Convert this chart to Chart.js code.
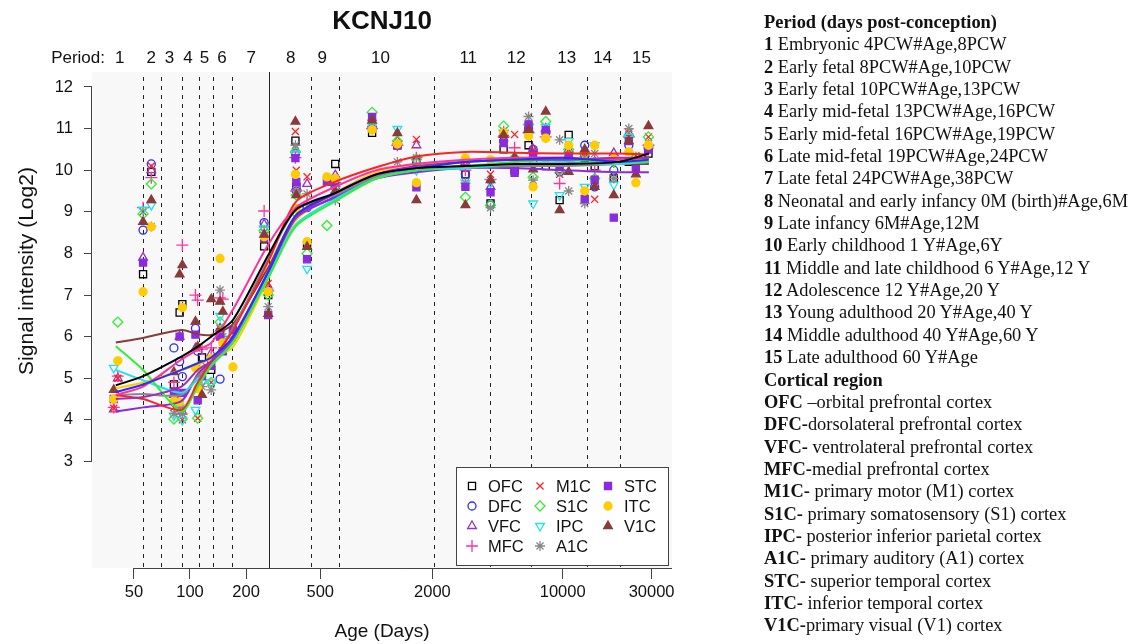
<!DOCTYPE html>
<html>
<head>
<meta charset="utf-8">
<script src="https://cdn.jsdelivr.net/npm/chart.js@4.4.0/dist/chart.umd.min.js"></script>
<style>
  body { margin: 0; background: #fff; }
  #wrap { position: relative; width: 1134px; height: 644px; }
  #side {
    position: absolute; left: 764px; top: 11px;
    font-family: "Liberation Serif", "Times New Roman", serif;
    font-size: 18.4px; line-height: 22.35px; color: #111; white-space: nowrap;
  }
</style>
</head>
<body>
<div id="wrap">
  <canvas id="kcnj10" width="1134" height="644"></canvas>
  <div id="side"></div>
</div>
<script>
// ages of the samples (days post-conception)
const sampleAges = [39, 41, 56, 62, 82, 88, 91, 107, 110, 116,
  130, 145, 150, 170, 250, 263, 368, 372, 425, 543,
  602, 949, 1297, 1641, 3006, 4100, 4820, 5520, 6560, 6940,
  8110, 9630, 10770, 13130, 14850, 18800, 22640, 24700, 28860];

// signal per region at each sample age (null = no sample)
const ofc = [null, null, 7.5, 9.96, 4.85, 6.58, 6.78, null, null, 5.5,
  5.2, 6.1, null, null, 8.17, 7.0, 10.71, 9.6, 8.2, null,
  10.15, 10.9, 10.6, 10.2, 9.9, 9.2, 10.5, 10.0, 10.6, 10.2,
  10.1, 9.28, 10.85, 10.3, 10.1, 9.8, 10.2, 10.3, 10.4];
const dfc = [null, null, 8.56, 10.15, 5.73, 5.4, 5.04, 6.2, 5.65, null,
  5.45, 4.98, null, null, 8.74, 7.1, 10.4, 9.5, 9.1, null,
  9.6, 11.0, 10.6, 10.26, 9.9, 9.16, 10.7, 10.2, 11.0, 10.5,
  10.9, 9.96, 10.3, 10.6, 9.6, 10.0, 10.6, 10.3, 10.5];
const vfc = [4.25, 5.0, 7.9, 10.0, 4.6, 6.0, 4.2, 5.72, null, 5.3,
  5.6, 6.2, null, null, 8.7, 7.2, 10.5, 9.6, 9.67, null,
  9.88, 11.1, 10.7, 10.6, 10.2, 9.6, 10.9, 10.2, 11.0, 10.5,
  11.0, 10.0, 10.5, 10.4, 10.2, 10.41, 10.9, 10.2, 10.6];
const mfc = [4.3, 5.05, 9.1, 9.82, 4.9, 4.2, 8.2, 7.0, 6.88, 5.7,
  5.73, 6.93, 6.9, null, 9.02, 7.1, 10.3, 9.5, 9.2, null,
  9.7, 11.0, 10.6, 10.3, 10.0, 9.78, 10.8, 10.54, 10.9, 10.4,
  10.8, 9.68, 10.2, 10.4, 10.0, 10.2, 10.8, 10.3, 10.6];
const m1c = [4.28, 5.0, 9.0, 10.1, 4.3, 4.2, 4.0, null, 4.04, null,
  4.9, 6.2, null, null, 8.5, 7.28, 10.93, 10.0, 9.84, null,
  9.7, 11.0, 10.6, 10.74, 10.2, 9.9, 10.8, 10.86, 10.9, 10.48,
  10.8, 9.9, 10.5, 10.4, 9.3, 10.3, 10.9, 10.35, 10.8];
const s1c = [null, 6.35, 8.95, 9.67, 4.02, 4.3, 4.02, null, 4.04, null,
  4.9, 6.35, null, null, 8.55, 7.0, 10.44, 9.4, 8.0, 8.67,
  9.6, 11.39, 10.7, 10.26, 9.35, 9.16, 11.06, 10.3, 11.1, 9.83,
  11.17, 10.0, 10.5, 10.4, 9.8, 10.2, 10.8, 10.3, 10.8];
const ipc = [5.25, null, 9.05, 9.16, 4.1, 4.3, 4.0, 4.24, null, 4.9,
  4.9, 6.5, 5.95, null, 8.6, 7.1, 10.4, 8.92, 7.63, null,
  9.4, 11.05, 10.99, 10.0, 9.7, 9.7, 10.9, 10.2, 10.85, 9.2,
  11.04, 9.4, 10.7, 9.6, 10.6, 9.65, 10.8, 10.1, 10.5];
const a1c = [null, null, null, 8.65, 4.15, 4.3, 4.15, null, null, 4.8,
  4.72, 7.12, 6.0, 5.97, 8.5, 6.72, 10.6, 9.52, 9.43, null,
  9.28, 11.2, 10.2, 10.3, 9.69, 9.1, 10.95, 10.2, 11.29, 9.76,
  10.9, 10.73, 9.5, 9.2, 10.4, 9.8, 11.0, 10.2, 10.6];
const stc = [4.5, null, 7.78, null, 4.68, 6.0, 4.65, 6.05, 4.47, 5.05,
  5.3, 6.0, 5.65, 6.16, 8.37, 6.52, 10.29, 9.72, 7.86, 9.72,
  9.7, 11.28, 10.6, 9.59, 9.6, 9.47, 10.65, 9.94, 11.1, 10.39,
  10.97, 10.1, 10.33, 9.31, 9.77, 8.86, 10.7, 10.06, 10.5];
const itc = [4.5, 5.42, 7.08, 8.64, 4.45, 4.43, 6.7, 5.25, 4.75, 5.2,
  5.48, 7.88, 5.85, 5.27, 8.4, 7.08, 9.9, 9.08, 8.28, 9.84,
  9.8, 10.97, 10.63, 9.7, 10.29, 10.25, 10.9, 10.2, 10.82, 9.6,
  10.77, 10.2, 10.6, 9.5, 10.6, 10.28, 10.44, 9.7, 10.6];
const v1c = [4.72, null, 8.76, 9.28, 5.15, 7.5, 7.72, 6.36, 5.76, 4.6,
  6.9, 6.84, 6.6, null, 8.45, 6.55, 11.17, 9.4, 8.16, null,
  9.5, 11.2, 10.89, 9.28, 9.16, 9.76, 10.85, 10.31, 10.97, 10.02,
  11.41, 9.04, 9.96, 10.5, 9.6, 9.4, 10.7, 9.9, 11.06];

// smoothed trend per region, read at these ages
const fitAges = [40, 56, 90, 110, 130, 170, 266, 370, 600, 1000, 1640, 3000, 5500, 10000, 20000, 29000];
const ofcFit = [4.83, 5.05, 5.52, 5.76, 6.0, 6.4, 8.0, 9.05, 9.45, 9.9, 10.05, 10.1, 10.15, 10.15, 10.2, 10.4];
const dfcFit = [4.67, 4.85, 5.2, 5.36, 5.5, 6.0, 7.6, 8.92, 9.45, 9.9, 10.05, 10.2, 10.25, 10.3, 10.2, 10.25];
const vfcFit = [4.5, 4.55, 4.8, 5.2, 5.4, 5.95, 7.6, 8.85, 9.45, 9.9, 10.1, 10.2, 10.25, 10.25, 10.3, 10.3];
const mfcFit = [4.6, 4.8, 5.45, 5.68, 5.85, 6.65, 8.25, 9.1, 9.6, 10.0, 10.15, 10.25, 10.3, 10.3, 10.25, 10.3];
const m1cFit = [4.6, 4.5, 4.24, 4.9, 5.4, 6.15, 7.85, 9.24, 9.72, 10.07, 10.33, 10.44, 10.42, 10.4, 10.4, 10.38];
const s1cFit = [5.77, 5.2, 4.2, 4.8, 5.3, 5.85, 7.45, 8.65, 9.25, 9.8, 10.0, 10.1, 10.2, 10.25, 10.2, 10.2];
const ipcFit = [5.2, 4.95, 4.65, 4.97, 5.3, 5.9, 7.5, 8.7, 9.3, 9.8, 10.0, 10.05, 10.15, 10.2, 10.15, 10.2];
const a1cFit = [4.6, 4.62, 4.6, 5.05, 5.35, 6.2, 7.9, 9.05, 9.4, 9.85, 10.0, 10.05, 10.1, 10.1, 10.15, 10.2];
const stcFit = [4.2, 4.3, 4.45, 5.1, 5.4, 5.95, 7.55, 8.85, 9.35, 9.8, 9.95, 10.05, 10.05, 10.0, 9.95, 9.95];
const itcFit = [4.76, 4.9, 5.2, 5.32, 5.48, 5.75, 7.45, 8.8, 9.45, 9.95, 10.15, 10.2, 10.25, 10.25, 10.25, 10.25];
const v1cFit = [5.86, 5.97, 6.16, 6.06, 6.04, 6.3, 7.7, 8.9, 9.35, 9.85, 10.0, 10.1, 10.15, 10.15, 10.15, 10.15];

const regionNames = ["OFC", "DFC", "VFC", "MFC", "M1C", "S1C", "IPC", "A1C", "STC", "ITC", "V1C"];
const regionValues = [ofc, dfc, vfc, mfc, m1c, s1c, ipc, a1c, stc, itc, v1c];
const regionFits = [ofcFit, dfcFit, vfcFit, mfcFit, m1cFit, s1cFit, ipcFit, a1cFit, stcFit, itcFit, v1cFit];

const xTicks = [50, 100, 200, 500, 2000, 10000, 30000];
const yTicks = [3, 4, 5, 6, 7, 8, 9, 10, 11, 12];
const periodBounds = [56, 70, 91, 112, 133, 168, 266, 448, 631, 2034, 4068, 6780, 13560, 20340];
const birthDay = 266;
const periodLabels = ["1", "2", "3", "4", "5", "6", "7", "8", "9", "10", "11", "12", "13", "14", "15"];
const periodLabelAges = [42, 62, 77.6, 97.5, 119.6, 148.6, 213, 347, 513, 1052, 3112, 5636, 10520, 16400, 26500];

// text of the right hand panel
const periodText = [
  "Embryonic 4PCW#Age,8PCW", "Early fetal 8PCW#Age,10PCW", "Early fetal 10PCW#Age,13PCW",
  "Early mid-fetal 13PCW#Age,16PCW", "Early mid-fetal 16PCW#Age,19PCW", "Late mid-fetal 19PCW#Age,24PCW",
  "Late fetal 24PCW#Age,38PCW", "Neonatal and early infancy 0M (birth)#Age,6M", "Late infancy 6M#Age,12M",
  "Early childhood 1 Y#Age,6Y", "Middle and late childhood 6 Y#Age,12 Y", "Adolescence 12 Y#Age,20 Y",
  "Young adulthood 20 Y#Age,40 Y", "Middle adulthood 40 Y#Age,60 Y", "Late adulthood 60 Y#Age"];
const regionHead = ["OFC ", "DFC-", "VFC-", "MFC-", "M1C-", "S1C-", "IPC-", "A1C-", "STC-", "ITC-", "V1C-"];
const regionText = ["\u2013orbital prefrontal cortex", "dorsolateral prefrontal cortex", " ventrolateral prefrontal cortex",
  "medial prefrontal cortex", " primary motor (M1) cortex", " primary somatosensory (S1) cortex",
  " posterior inferior parietal cortex", " primary auditory (A1) cortex", " superior temporal cortex",
  " inferior temporal cortex", "primary visual (V1) cortex"];

// marker look per region
const styles = [
  { color: "#000000", shape: "rect", fill: false, r: 5 },
  { color: "#2b2bff", shape: "circle", fill: false, r: 4 },
  { color: "#9b30b8", shape: "triangle", fill: false, r: 5 },
  { color: "#ff3399", shape: "cross", fill: false, r: 6 },
  { color: "#ff2222", shape: "crossRot", fill: false, r: 5 },
  { color: "#33ee33", shape: "rectRot", fill: false, r: 5 },
  { color: "#1ee3f0", shape: "triangle", fill: false, r: 5, rot: 180 },
  { color: "#888888", shape: "star", fill: false, r: 5 },
  { color: "#8a2be2", shape: "rect", fill: true, r: 5 },
  { color: "#ffcc00", shape: "circle", fill: true, r: 4 },
  { color: "#8b3a3a", shape: "triangle", fill: true, r: 5 },
];

const sans = '"Liberation Sans", Arial, sans-serif';

// fill the side panel
const side = document.getElementById("side");
let html = "<b>Period (days post-conception)</b><br>";
periodText.forEach((t, i) => { html += "<b>" + (i + 1) + "</b> " + t + "<br>"; });
html += "<b>Cortical region</b><br>";
regionHead.forEach((h, i) => { html += "<b>" + h + "</b>" + regionText[i] + "<br>"; });
side.innerHTML = html;

const datasets = [];
regionNames.forEach((name, i) => {
  const s = styles[i];
  datasets.push({
    label: name + " fit",
    data: fitAges.map((a, k) => ({ x: a, y: regionFits[i][k] })),
    showLine: true,
    borderColor: s.color,
    borderWidth: 2,
    pointRadius: 0,
    tension: 0.25,
    order: 0,
  });
});
regionNames.forEach((name, i) => {
  const s = styles[i];
  const pts = [];
  sampleAges.forEach((a, k) => {
    if (regionValues[i][k] !== null) pts.push({ x: a, y: regionValues[i][k] });
  });
  datasets.push({
    label: name,
    data: pts,
    showLine: false,
    pointStyle: s.shape,
    pointRotation: s.rot || 0,
    pointRadius: s.r,
    pointBorderWidth: 1.3,
    pointBorderColor: s.color,
    pointBackgroundColor: s.fill ? s.color : "rgba(0,0,0,0)",
    order: 30 - i,
  });
});

function drawMarker(ctx, s, x, y) {
  ctx.save();
  ctx.strokeStyle = s.color;
  ctx.fillStyle = s.fill ? s.color : "rgba(0,0,0,0)";
  ctx.lineWidth = 1.3;
  Chart.helpers.drawPoint(ctx, { pointStyle: s.shape, radius: s.r, rotation: s.rot || 0, borderWidth: 1.3 }, x, y);
  ctx.restore();
}

const decor = {
  id: "decor",
  beforeDraw(chart) {
    const { ctx, chartArea: a } = chart;
    ctx.save();
    ctx.fillStyle = "#f8f8f8";
    ctx.fillRect(a.left, a.top, a.right - a.left, a.bottom - a.top);
    ctx.restore();
  },
  beforeDatasetsDraw(chart) {
    const { ctx, chartArea: a, scales: { x } } = chart;
    ctx.save();
    ctx.strokeStyle = "#222";
    ctx.lineWidth = 1;
    periodBounds.forEach((d) => {
      const px = Math.round(x.getPixelForValue(d)) + 0.5;
      ctx.setLineDash(d === birthDay ? [] : [4, 5]);
      ctx.beginPath();
      ctx.moveTo(px, d === birthDay ? a.top : a.top + 5);
      ctx.lineTo(px, a.bottom);
      ctx.stroke();
    });
    ctx.restore();
  },
  afterDraw(chart) {
    const { ctx, chartArea: a, scales: { x, y } } = chart;
    ctx.save();
    // axis lines
    ctx.strokeStyle = "#444";
    ctx.lineWidth = 1;
    ctx.beginPath();
    ctx.moveTo(a.left - 0.5, y.getPixelForValue(12));
    ctx.lineTo(a.left - 0.5, y.getPixelForValue(3));
    ctx.moveTo(x.getPixelForValue(50), a.bottom + 0.5);
    ctx.lineTo(a.right, a.bottom + 0.5);
    ctx.stroke();

    // titles
    ctx.fillStyle = "#111";
    ctx.textAlign = "center";
    ctx.textBaseline = "middle";
    ctx.font = "bold 26px " + sans;
    ctx.fillText("KCNJ10", (a.left + a.right) / 2, 22);
    ctx.font = "19px " + sans;
    ctx.fillText("Age (Days)", (a.left + a.right) / 2, 632);
    ctx.save();
    ctx.translate(27, 271);
    ctx.rotate(-Math.PI / 2);
    ctx.font = "21px " + sans;
    ctx.fillText("Signal intensity (Log2)", 0, 0);
    ctx.restore();

    // period numbers along the top
    ctx.font = "17px " + sans;
    periodLabels.forEach((t, i) => ctx.fillText(t, x.getPixelForValue(periodLabelAges[i]), 58));
    ctx.textAlign = "right";
    ctx.fillText("Period:", a.left + 13, 58);

    // legend box
    const bw = 212, bh = 98;
    const bl = a.right - bw - 4, bt = a.bottom - bh - 3;
    ctx.fillStyle = "#fff";
    ctx.fillRect(bl, bt, bw, bh);
    ctx.strokeStyle = "#444";
    ctx.strokeRect(bl + 0.5, bt + 0.5, bw, bh);
    ctx.font = "16.5px " + sans;
    ctx.textAlign = "left";
    regionNames.forEach((name, i) => {
      const col = Math.floor(i / 4), row = i % 4;
      const cy = bt + 19 + row * 20;
      drawMarker(ctx, styles[i], bl + 16 + col * 68, cy);
      ctx.fillStyle = "#111";
      ctx.fillText(name, bl + 32 + col * 68, cy + 1);
    });
    ctx.restore();
  },
};

new Chart(document.getElementById("kcnj10"), {
  type: "scatter",
  data: { datasets: datasets },
  options: {
    responsive: false,
    animation: false,
    devicePixelRatio: 1,
    layout: { padding: { left: 0, top: 72, right: 462, bottom: 0 } },
    plugins: { legend: { display: false }, tooltip: { enabled: false }, title: { display: false } },
    scales: {
      x: {
        type: "logarithmic",
        min: 29.8,
        max: 38600,
        afterBuildTicks: (scale) => { scale.ticks = xTicks.map((v) => ({ value: v })); },
        afterFit: (scale) => { scale.height = 76; },
        ticks: { color: "#111", font: { family: sans, size: 16.5 }, padding: 4, maxRotation: 0, autoSkip: false,
          callback: (v) => String(v) },
        grid: { drawOnChartArea: false, drawTicks: true, tickLength: 11, color: "#444" },
        border: { display: false },
      },
      y: {
        min: 0.44,
        max: 12.36,
        afterBuildTicks: (scale) => { scale.ticks = yTicks.map((v) => ({ value: v })); },
        afterFit: (scale) => { scale.width = 92; },
        ticks: { color: "#111", font: { family: sans, size: 16.5 }, padding: 11 },
        grid: { drawOnChartArea: false, drawTicks: true, tickLength: 8, color: "#444" },
        border: { display: false },
      },
    },
  },
  plugins: [decor],
});
</script>
</body>
</html>
